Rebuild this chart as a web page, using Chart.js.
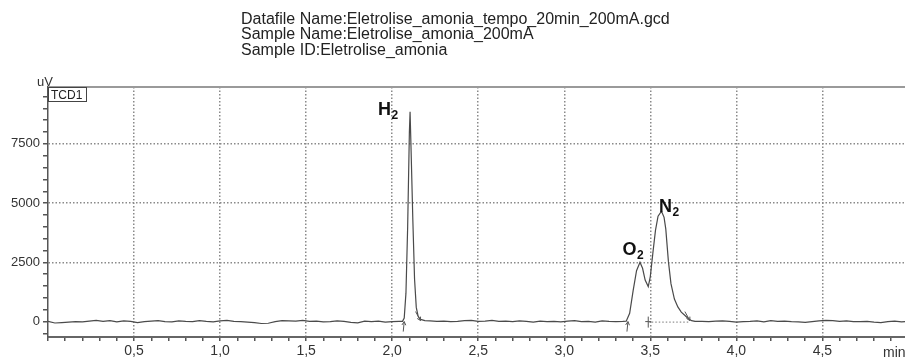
<!DOCTYPE html>
<html>
<head>
<meta charset="utf-8">
<script src="https://cdn.jsdelivr.net/npm/chart.js@4.4.0/dist/chart.umd.min.js"></script>
<style>
  html, body { margin: 0; padding: 0; background: #fff; }
  #chart { display: block; }
</style>
</head>
<body>
<canvas id="chart" width="905" height="361"></canvas>
<script>
// chromatogram, time in min, signal in uV
const timeMin = [
  0.00, 0.04, 0.08, 0.12, 0.16, 0.20, 0.24, 0.28, 0.32, 0.36, 0.40, 0.44, 0.48,
  0.52, 0.56, 0.60, 0.64, 0.68, 0.72, 0.76, 0.80, 0.84, 0.88, 0.92, 0.96, 1.00,
  1.04, 1.08, 1.12, 1.16, 1.20, 1.24, 1.28, 1.32, 1.36, 1.40, 1.44, 1.48, 1.52,
  1.56, 1.60, 1.64, 1.68, 1.72, 1.76, 1.80, 1.84, 1.88, 1.92, 1.96, 2.00, 2.04,
  2.06, 2.07, 2.08, 2.09, 2.10, 2.104, 2.11, 2.12, 2.13, 2.14, 2.15, 2.16, 2.17, 2.19,
  2.22, 2.26, 2.30, 2.34, 2.38, 2.42, 2.46, 2.50, 2.54, 2.58, 2.62, 2.66, 2.70,
  2.74, 2.78, 2.82, 2.86, 2.90, 2.94, 2.98, 3.02, 3.06, 3.10, 3.14, 3.18, 3.22,
  3.26, 3.30, 3.34,
  3.36, 3.38, 3.40, 3.42, 3.44, 3.455, 3.47, 3.488, 3.50, 3.515, 3.53, 3.545, 3.565,
  3.58, 3.59, 3.605, 3.62, 3.64, 3.66, 3.68, 3.70, 3.72, 3.74, 3.76,
  3.80, 3.84, 3.88, 3.92, 3.96, 4.00, 4.04, 4.08, 4.12, 4.16, 4.20, 4.24, 4.28,
  4.32, 4.36, 4.40, 4.44, 4.48, 4.52, 4.56, 4.60, 4.64, 4.68, 4.72, 4.76, 4.80,
  4.84, 4.88, 4.92, 4.96, 4.98
];
const signalUV = [
  10, -60, -40, -20, 0, -10, 20, 50, 10, 40, -10, 30, 10,
  -40, 0, 20, 40, 0, -10, 30, 10, 0, 40, 10, -10, 30,
  50, 10, 0, -20, -40, -80, -70, 0, 40, 30, 20, 50, 10,
  20, -10, 0, 30, 10, -30, -50, 20, 0, 20, -20, 0, 10,
  10, 150, 1200, 4000, 8000, 8850, 7200, 4300, 1800, 600, 250, 120, 80, 40,
  30, 10, 20, 0, 10, 40, 50, 10, 20, 50, 10, 20, 0,
  30, 10, -20, 20, 0, 10, -10, 20, 40, 0, 10, -20, 30,
  10, 0, 10,
  20, 350, 1300, 2150, 2500, 2250, 1750, 1480, 1900, 2900, 3850, 4450, 4660,
  4400, 3900, 2550, 1600, 950, 620, 400, 270, 130, 40, 10,
  10, 0, 20, 30, 10, -20, 0, 10, 30, -10, 40, 10, 20,
  0, -10, -30, 0, 30, 50, 40, 10, 30, 0, 0, 10, -20,
  -40, 0, 20, -10, 0
];

// y axis ticks (minor every 500, labelled every 2500)
const yTickValues = [
  -500, 0, 500, 1000, 1500, 2000, 2500, 3000, 3500, 4000, 4500, 5000,
  5500, 6000, 6500, 7000, 7500, 8000, 8500, 9000, 9500
];
const yTickLabels = [0, 2500, 5000, 7500];

const headerLines = [
  'Datafile Name:Eletrolise_amonia_tempo_20min_200mA.gcd',
  'Sample Name:Eletrolise_amonia_200mA',
  'Sample ID:Eletrolise_amonia'
];

// peak labels: name, subscript, anchor time and signal
const peakNames = ['H', 'O', 'N'];
const peakSubs = ['2', '2', '2'];
const peakLabelTime = [1.917, 3.339, 3.55];
const peakLabelUV = [8720, 2810, 4620];

// integration start / end marks
const markStart = [2.07, 3.37];
const markEnd = [2.165, 3.73];
const markSplit = [3.488];

const isMultiple = (v, step) => Math.abs(v / step - Math.round(v / step)) < 1e-6;

const points = timeMin.map((t, i) => ({ x: t, y: signalUV[i] }));

const extras = {
  id: 'extras',
  afterDraw(chart) {
    const ctx = chart.ctx;
    const area = chart.chartArea;
    const xs = chart.scales.x;
    const ys = chart.scales.y;
    ctx.save();

    // top frame line
    ctx.strokeStyle = '#9a9a9a';
    ctx.lineWidth = 2;
    ctx.beginPath();
    ctx.moveTo(area.left, area.top);
    ctx.lineTo(area.right, area.top);
    ctx.stroke();

    // header text
    ctx.fillStyle = '#222';
    ctx.font = '16px "Liberation Sans", Arial, sans-serif';
    ctx.textAlign = 'left';
    ctx.textBaseline = 'alphabetic';
    headerLines.forEach((t, i) => ctx.fillText(t, 241, 24 + i * 15.3));

    // unit labels
    ctx.fillStyle = '#333';
    ctx.font = '13px "Liberation Sans", Arial, sans-serif';
    ctx.fillText('uV', 37, 86);
    ctx.font = '14px "Liberation Sans", Arial, sans-serif';
    ctx.fillText('min', 883, 357);

    // TCD1 box
    ctx.fillStyle = '#fff';
    ctx.fillRect(area.left + 1, area.top + 1, 38, 14);
    ctx.strokeStyle = '#444';
    ctx.lineWidth = 1;
    ctx.strokeRect(area.left + 0.5, area.top + 0.5, 38, 14);
    ctx.fillStyle = '#222';
    ctx.font = '12px "Liberation Sans", Arial, sans-serif';
    ctx.fillText('TCD1', area.left + 3, area.top + 12);

    // peak labels
    peakNames.forEach((name, i) => {
      const px = xs.getPixelForValue(peakLabelTime[i]);
      const py = ys.getPixelForValue(peakLabelUV[i]);
      ctx.fillStyle = '#111';
      ctx.font = 'bold 18px "Liberation Sans", Arial, sans-serif';
      ctx.fillText(name, px, py);
      const w = ctx.measureText(name).width;
      ctx.font = 'bold 12px "Liberation Sans", Arial, sans-serif';
      ctx.fillText(peakSubs[i], px + w + 0.5, py + 4);
    });

    // integration marks
    const y0 = ys.getPixelForValue(0);
    ctx.strokeStyle = '#555';
    ctx.lineWidth = 1;
    const arrow = (x1, y1, x2, y2) => {
      ctx.beginPath();
      ctx.moveTo(x1, y1);
      ctx.lineTo(x2, y2);
      const a = Math.atan2(y2 - y1, x2 - x1);
      ctx.moveTo(x2, y2);
      ctx.lineTo(x2 - 4 * Math.cos(a - 0.5), y2 - 4 * Math.sin(a - 0.5));
      ctx.moveTo(x2, y2);
      ctx.lineTo(x2 - 4 * Math.cos(a + 0.5), y2 - 4 * Math.sin(a + 0.5));
      ctx.stroke();
    };
    markStart.forEach(t => {
      const x = xs.getPixelForValue(t);
      arrow(x - 1, y0 + 10, x, y0);
    });
    markEnd.forEach(t => {
      const x = xs.getPixelForValue(t);
      arrow(x - 5, y0 - 10, x, y0 - 1);
    });
    markSplit.forEach(t => {
      const x = xs.getPixelForValue(t);
      ctx.beginPath();
      ctx.moveTo(x, y0 - 5);
      ctx.lineTo(x, y0 + 6);
      ctx.moveTo(x - 3, y0);
      ctx.lineTo(x + 3, y0);
      ctx.stroke();
    });

    // dotted integration baseline under N2
    ctx.setLineDash([1.5, 2]);
    ctx.strokeStyle = '#777';
    ctx.beginPath();
    ctx.moveTo(xs.getPixelForValue(markSplit[0]), y0 + 0.5);
    ctx.lineTo(xs.getPixelForValue(markEnd[1]), y0 + 0.5);
    ctx.stroke();

    ctx.restore();
  }
};

const labelFont = { family: '"Liberation Sans", Arial, sans-serif', size: 14 };

new Chart(document.getElementById('chart'), {
  type: 'line',
  data: {
    datasets: [{
      data: points,
      borderColor: '#4a4a4a',
      borderWidth: 1.2,
      pointRadius: 0,
      tension: 0,
      fill: false
    }]
  },
  options: {
    responsive: false,
    animation: false,
    devicePixelRatio: 1,
    layout: { padding: { top: 87, right: 0, left: 0, bottom: 0 } },
    plugins: { legend: { display: false }, tooltip: { enabled: false } },
    scales: {
      x: {
        type: 'linear',
        min: 0,
        max: 4.98,
        afterFit(s) { s.height = 24; },
        border: { color: '#666', width: 2, dash: [1.5, 2] },
        grid: {
          color: c => (c.tick && c.tick.value > 0 && isMultiple(c.tick.value, 0.5)) ? '#8a8a8a' : 'transparent',
          lineWidth: 1.5,
          tickLength: 4,
          tickColor: '#555',
          tickWidth: 1.5
        },
        ticks: {
          stepSize: 0.1,
          autoSkip: false,
          includeBounds: false,
          maxRotation: 0,
          minRotation: 0,
          padding: 2,
          color: '#333',
          font: labelFont,
          callback: v => (v > 0 && isMultiple(v, 0.5)) ? v.toFixed(1).replace('.', ',') : ''
        }
      },
      y: {
        min: -650,
        max: 9900,
        afterFit(s) { s.width = 48; },
        afterBuildTicks(s) { s.ticks = yTickValues.map(v => ({ value: v })); },
        border: { color: '#555', width: 1.5, dash: [1.5, 2] },
        grid: {
          color: c => (c.tick && c.tick.value > 0 && yTickLabels.includes(c.tick.value)) ? '#8a8a8a' : 'transparent',
          lineWidth: 1.5,
          tickLength: 5,
          tickColor: '#555',
          tickWidth: 1.5
        },
        ticks: {
          autoSkip: false,
          padding: 3,
          color: '#333',
          font: { family: '"Liberation Sans", Arial, sans-serif', size: 13 },
          callback: v => yTickLabels.includes(v) ? String(v) : ''
        }
      }
    }
  },
  plugins: [extras]
});
</script>
</body>
</html>
